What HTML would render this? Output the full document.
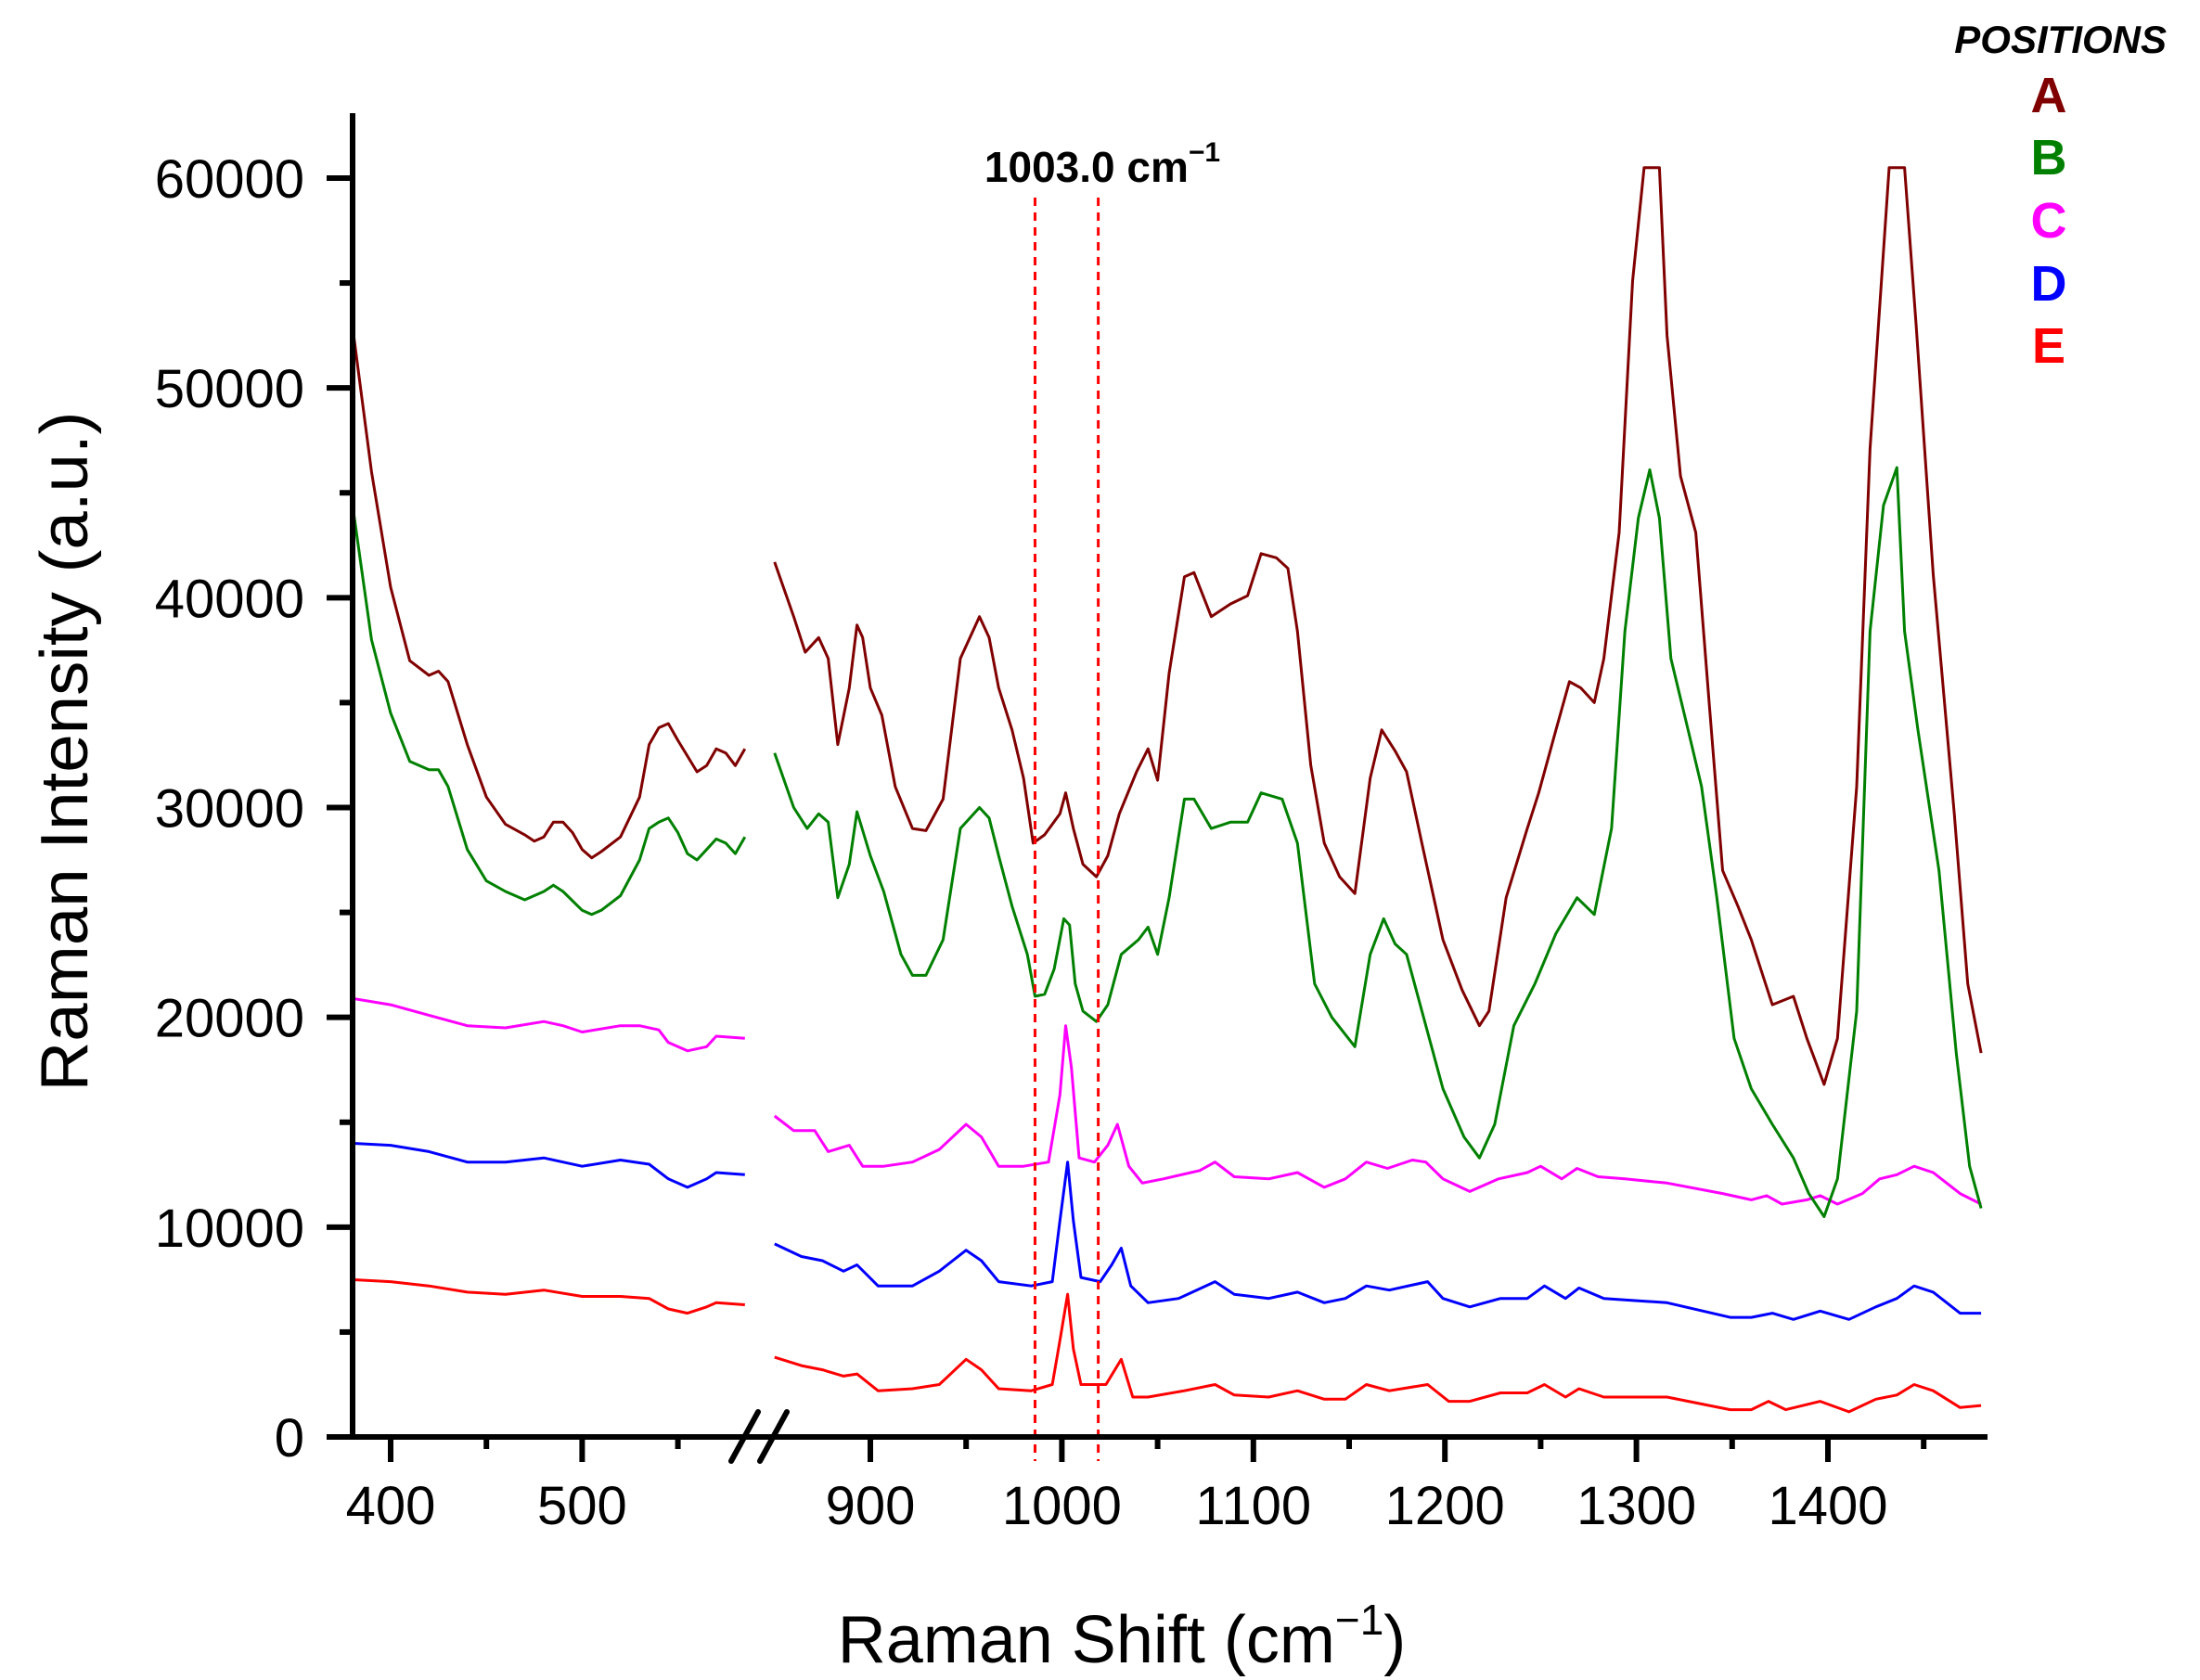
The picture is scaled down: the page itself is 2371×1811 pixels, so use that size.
<!DOCTYPE html>
<html><head><meta charset="utf-8"><style>
html,body{margin:0;padding:0;background:#fff;}
svg{display:block;font-family:"Liberation Sans",Arial,sans-serif;}
</style></head><body>
<svg id="chart" width="2371" height="1811" viewBox="0 0 2371 1811">
<g id="plot"></g>
<text x="2335" y="57" text-anchor="end" font-size="42" font-weight="bold" font-style="italic">POSITIONS</text>
<text x="2208" y="121" text-anchor="middle" font-size="54" font-weight="bold" fill="#800000">A</text>
<text x="2208" y="188" text-anchor="middle" font-size="54" font-weight="bold" fill="#008000">B</text>
<text x="2208" y="256" text-anchor="middle" font-size="54" font-weight="bold" fill="#ff00ff">C</text>
<text x="2208" y="324" text-anchor="middle" font-size="54" font-weight="bold" fill="#0000ff">D</text>
<text x="2208" y="391" text-anchor="middle" font-size="54" font-weight="bold" fill="#ff0000">E</text>
<text x="1188" y="196" text-anchor="middle" font-size="46" font-weight="bold">1003.0 cm<tspan font-size="30" dy="-22">−1</tspan></text>
<text x="1209" y="1792" text-anchor="middle" font-size="72">Raman Shift (cm<tspan font-size="46" dy="-30">−1</tspan><tspan dy="30">)</tspan></text>
<text transform="translate(94,810) rotate(-90)" text-anchor="middle" font-size="72" textLength="733" lengthAdjust="spacingAndGlyphs">Raman Intensity (a.u.)</text>
</svg>
<script>
const yTicks=[0,10000,20000,30000,40000,50000,60000];
const yMinor=[5000,15000,25000,35000,45000,55000];
const xTicksLeft=[400,500];
const xMinorLeft=[450,550];
const xTicksRight=[900,1000,1100,1200,1300,1400];
const xMinorRight=[950,1050,1150,1250,1350,1450];
const markerLines=[986,1019];
const seriesNames=["A","B","C","D","E"];
const seriesColors=["#800000","#008000","#ff00ff","#0000ff","#ff0000"];
// left segment (cm-1, kcounts)
const leftX_A=[380,390,400,410,420,425,430,440,450,460,470,475,480,485,490,495,500,505,510,520,530,535,540,545,550,560,565,570,575,580,585];
const leftY_A=[53,46,40.5,37,36.3,36.5,36,33,30.5,29.2,28.7,28.4,28.6,29.3,29.3,28.8,28,27.6,27.9,28.6,30.5,33,33.8,34,33.2,31.7,32,32.8,32.6,32,32.8];
const leftX_B=[380,390,400,410,420,425,430,440,450,460,470,480,485,490,500,505,510,520,530,535,540,545,550,555,560,565,570,575,580,585];
const leftY_B=[44.5,38,34.5,32.2,31.8,31.8,31,28,26.5,26,25.6,26,26.3,26,25.1,24.9,25.1,25.8,27.5,29,29.3,29.5,28.8,27.8,27.5,28,28.5,28.3,27.8,28.6];
const leftX_C=[380,400,420,440,460,480,490,500,520,530,540,545,555,565,570,585];
const leftY_C=[20.9,20.6,20.1,19.6,19.5,19.8,19.6,19.3,19.6,19.6,19.4,18.8,18.4,18.6,19.1,19.0];
const leftX_D=[380,400,420,440,460,480,500,520,535,545,555,565,570,585];
const leftY_D=[14.0,13.9,13.6,13.1,13.1,13.3,12.9,13.2,13.0,12.3,11.9,12.3,12.6,12.5];
const leftX_E=[380,400,420,440,460,480,500,520,535,545,555,565,570,585];
const leftY_E=[7.5,7.4,7.2,6.9,6.8,7.0,6.7,6.7,6.6,6.1,5.9,6.2,6.4,6.3];
// right segment
const rightX_A=[850,860,866,873,878,883,889,893,896,900,906,913,922,929,938,947,957,962,967,974,980,985,991,999,1002,1006,1011,1018,1024,1030,1039,1045,1050,1056,1064,1069,1078,1088,1097,1104,1112,1118,1123,1130,1137,1145,1153,1161,1167,1174,1180,1188,1199,1209,1218,1223,1232,1243,1249,1258,1265,1271,1278,1283,1291,1298,1304,1312,1316,1323,1331,1338,1345,1353,1360,1371,1382,1389,1398,1405,1415,1422,1432,1440,1446,1455,1466,1473,1480];
const rightY_A=[41.7,39.1,37.4,38.1,37.1,33.0,35.7,38.7,38.1,35.7,34.4,31.0,29.0,28.9,30.4,37.1,39.1,38.1,35.7,33.7,31.4,28.3,28.7,29.7,30.7,29.0,27.3,26.7,27.7,29.7,31.7,32.8,31.3,36.4,41.0,41.2,39.1,39.7,40.1,42.1,41.9,41.4,38.4,32.0,28.3,26.7,25.9,31.4,33.7,32.7,31.7,28.3,23.7,21.3,19.6,20.3,25.7,29.0,30.7,33.7,36.0,35.7,35.0,37.1,43.1,55.1,60.5,60.5,52.5,45.8,43.1,35.0,27.0,25.3,23.7,20.6,21.0,19.0,16.8,19.0,31.0,47.1,60.5,60.5,53.1,41.1,29.7,21.6,18.3];
const rightX_B=[850,860,867,873,878,883,889,893,900,907,916,922,929,938,947,957,962,967,974,982,986,991,996,1001,1004,1007,1011,1018,1024,1031,1040,1045,1050,1056,1064,1069,1078,1088,1097,1104,1115,1123,1132,1141,1153,1161,1168,1174,1180,1188,1199,1210,1218,1226,1236,1247,1258,1269,1278,1287,1294,1301,1307,1312,1318,1327,1334,1342,1351,1360,1371,1382,1390,1398,1405,1415,1422,1429,1436,1440,1447,1458,1467,1474,1480];
const rightY_B=[32.6,30.0,29.0,29.7,29.3,25.7,27.3,29.8,27.7,26.0,23.0,22.0,22.0,23.7,29.0,30.0,29.5,27.7,25.3,23.0,21.0,21.1,22.3,24.7,24.4,21.6,20.3,19.8,20.6,23.0,23.7,24.3,23.0,25.7,30.4,30.4,29.0,29.3,29.3,30.7,30.4,28.3,21.6,20.0,18.6,23.0,24.7,23.5,23.0,20.3,16.6,14.3,13.3,14.9,19.6,21.6,24.0,25.7,24.9,29.0,38.4,43.8,46.1,43.8,37.1,33.7,31.0,25.7,19.0,16.6,14.9,13.3,11.6,10.5,12.3,20.3,38.4,44.4,46.2,38.4,33.7,27.0,18.3,12.9,10.9];
const rightX_C=[850,860,871,878,889,896,907,922,936,950,958,967,980,993,999,1002,1005,1009,1017,1024,1029,1035,1042,1053,1072,1080,1090,1108,1123,1137,1148,1159,1170,1183,1190,1199,1213,1228,1243,1250,1261,1269,1280,1294,1316,1345,1360,1368,1376,1389,1396,1405,1418,1427,1436,1445,1455,1469,1480];
const rightY_C=[15.3,14.6,14.6,13.6,13.9,12.9,12.9,13.1,13.7,14.9,14.3,12.9,12.9,13.1,16.3,19.6,17.6,13.3,13.1,13.9,14.9,12.9,12.1,12.3,12.7,13.1,12.4,12.3,12.6,11.9,12.3,13.1,12.8,13.2,13.1,12.3,11.7,12.3,12.6,12.9,12.3,12.8,12.4,12.3,12.1,11.6,11.3,11.5,11.1,11.3,11.5,11.1,11.6,12.3,12.5,12.9,12.6,11.6,11.1];
const rightX_D=[850,864,875,886,893,904,922,936,950,958,967,984,995,999,1003,1006,1010,1020,1026,1031,1036,1045,1061,1080,1090,1108,1123,1137,1148,1159,1171,1191,1199,1213,1229,1243,1252,1263,1270,1283,1316,1349,1360,1371,1382,1396,1411,1425,1436,1445,1455,1469,1480];
const rightY_D=[9.2,8.6,8.4,7.9,8.2,7.2,7.2,7.9,8.9,8.4,7.4,7.2,7.4,10.3,13.1,10.3,7.6,7.4,8.2,9.0,7.2,6.4,6.6,7.4,6.8,6.6,6.9,6.4,6.6,7.2,7.0,7.4,6.6,6.2,6.6,6.6,7.2,6.6,7.1,6.6,6.4,5.7,5.7,5.9,5.6,6.0,5.6,6.2,6.6,7.2,6.9,5.9,5.9];
const rightX_E=[850,864,875,886,893,904,922,936,950,958,967,984,995,999,1003,1006,1010,1023,1031,1037,1045,1064,1080,1090,1108,1123,1137,1148,1159,1171,1191,1202,1213,1229,1243,1252,1263,1270,1283,1316,1349,1360,1369,1378,1396,1411,1425,1436,1445,1455,1469,1480];
const rightY_E=[3.8,3.4,3.2,2.9,3.0,2.2,2.3,2.5,3.7,3.2,2.3,2.2,2.5,4.6,6.8,4.2,2.5,2.5,3.7,1.9,1.9,2.2,2.5,2.0,1.9,2.2,1.8,1.8,2.5,2.2,2.5,1.7,1.7,2.1,2.1,2.5,1.9,2.3,1.9,1.9,1.3,1.3,1.7,1.3,1.7,1.2,1.8,2.0,2.5,2.2,1.4,1.5];

const NS="http://www.w3.org/2000/svg";
const plot=document.getElementById('plot');
function xL(v){return 421+(v-400)*2.064;}
function xR(v){return 938+(v-900)*2.064;}
function yS(v){return 1549-v*0.022617;}
function mk(tag,attrs){const e=document.createElementNS(NS,tag);for(const k in attrs)e.setAttribute(k,attrs[k]);plot.appendChild(e);return e;}

// series
const leftXs=[leftX_A,leftX_B,leftX_C,leftX_D,leftX_E];
const leftYs=[leftY_A,leftY_B,leftY_C,leftY_D,leftY_E];
const rightXs=[rightX_A,rightX_B,rightX_C,rightX_D,rightX_E];
const rightYs=[rightY_A,rightY_B,rightY_C,rightY_D,rightY_E];
for(let s=4;s>=0;s--){
  let d=leftXs[s].map((x,i)=>(i?'L':'M')+xL(x).toFixed(1)+','+yS(leftYs[s][i]*1000).toFixed(1)).join('');
  let p=mk('path',{d:d,fill:'none',stroke:seriesColors[s],'stroke-width':3,'stroke-linejoin':'round'});
  
  
  d=rightXs[s].map((x,i)=>(i?'L':'M')+xR(x).toFixed(1)+','+yS(rightYs[s][i]*1000).toFixed(1)).join('');
  p=mk('path',{d:d,fill:'none',stroke:seriesColors[s],'stroke-width':3,'stroke-linejoin':'round'});
  
  
}
// marker lines
markerLines.forEach(v=>{
  const l=mk('line',{x1:xR(v),x2:xR(v),y1:213,y2:1575,stroke:'#ff0000','stroke-width':3,'stroke-dasharray':'9,7'});
  
  
});
// axes
let ax=mk('line',{x1:380,x2:380,y1:122,y2:1552,stroke:'#000','stroke-width':6});


ax=mk('line',{x1:377,x2:2142,y1:1549,y2:1549,stroke:'#000','stroke-width':6});


yTicks.forEach(v=>{
  const t=mk('line',{x1:352,x2:380,y1:yS(v),y2:yS(v),stroke:'#000','stroke-width':6});
  
  
  const tx=mk('text',{x:328,y:yS(v)+21,'text-anchor':'end','font-size':58});
  tx.textContent=v;
  
  
});
yMinor.forEach(v=>{
  const t=mk('line',{x1:366,x2:380,y1:yS(v),y2:yS(v),stroke:'#000','stroke-width':6});
  
  
});
function xt(list,fn,major){
  list.forEach(v=>{
    const t=mk('line',{x1:fn(v),x2:fn(v),y1:1549,y2:major?1576:1562,stroke:'#000','stroke-width':6});
    
    
    if(major){
      const tx=mk('text',{x:fn(v),y:1643,'text-anchor':'middle','font-size':58});
      tx.textContent=v;
      
      
    }
  });
}
xt(xTicksLeft,xL,true);xt(xMinorLeft,xL,false);xt(xTicksRight,xR,true);xt(xMinorRight,xR,false);
// break marks
[[817,788],[848,819]].forEach(b=>{
  const l=mk('line',{x1:b[0],y1:1522,x2:b[1],y2:1575,stroke:'#000','stroke-width':6,'stroke-linecap':'round'});
  
  
});
</script>
</body></html>
